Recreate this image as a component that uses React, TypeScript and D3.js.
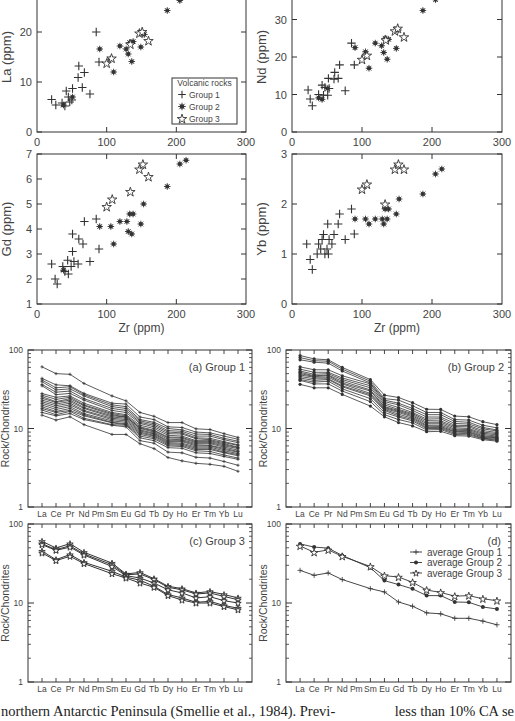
import React from "react";
import * as d3 from "d3";

// ---------- DATA ----------
const ELEMENTS = ["La","Ce","Pr","Nd","Pm","Sm","Eu","Gd","Tb","Dy","Ho","Er","Tm","Yb","Lu"];
// Pm is not analysed: measured values map onto these category positions
const MEASURED = [0,1,2,3,5,6,7,8,9,10,11,12,13,14];

const group1Patterns = [
  [61,50,49,37.5,26,22.5,16,14.3,11.9,11.9,9.9,9.7,8.6,7.7],
  [43.5,36,35,28,21,20.5,14,13,10.5,10.3,9,8.8,8,7.3],
  [41.5,33,34,27,20,19,13,12,10,9.6,8.5,8.4,7.5,6.9],
  [39.4,31,32,26,19,18,12.5,11.5,9.4,9.2,8,8,7.2,6.6],
  [36.4,29,30,24,18,17,12,11,9,8.8,7.6,7.5,6.8,6.2],
  [35,27,28,23,17,16,11.6,10.5,8.6,8.5,7.4,7.2,6.6,6.1],
  [27.9,25,26,21,16,15,11,10,8.2,8,7,7,6.4,5.8],
  [26.6,23.5,25,20,15.5,14.5,10.5,9.5,7.8,7.7,6.8,6.8,6.2,5.7],
  [25.4,22,24,19.5,15,14,10.2,9.3,7.6,7.5,6.6,6.6,6,5.55],
  [24.2,21.5,23,18.5,14.5,14,10,9,7.3,7.2,6.4,6.4,5.8,5.3],
  [23,20.5,22,18,14,13.5,9.6,8.7,7,7,6.2,6.1,5.6,5.1],
  [21.9,19.5,21,17,13.5,13,9.3,8.5,6.8,6.8,6,6,5.4,5],
  [20.9,18.5,20,16.5,13,12.5,9,8.2,6.6,6.5,5.8,5.8,5.2,4.8],
  [19.9,17.5,19,15.5,12.5,12,8.7,8,6.4,6.3,5.6,5.6,5,4.66],
  [18.9,16.5,18,15,12,11.5,8.4,7.7,6.2,6.1,5.4,5.4,4.9,4.5],
  [18,16,17,14.5,11.8,11.2,8,7.4,6,5.9,5.2,5.1,4.6,4.2],
  [17.2,15,16.5,13.5,11.2,11,7.6,7,5.7,5.6,4.9,4.8,4.4,4.05],
  [16,14.5,15.5,13,11,10.5,7,6.5,5,4.9,4.3,4.2,3.8,3.4],
  [14.8,12.8,14.1,11.2,8.4,8.4,6.4,5.55,4.27,3.87,3.6,3.5,3.3,2.85],
];

const group2Patterns = [
  [85,77,75,60,42,26.6,24.8,21.3,17.6,17.5,14.4,14.1,12.2,11.2],
  [80,73,72,57,40,24,23,19.5,16,16,13,12.8,11,10.2],
  [75,70,68,54,38,23,21,18,15,15,12.3,12,10.3,9.6],
  [61,56,56,47,37,22,20,17,14,14,11.6,11.4,9.9,9.3],
  [57,52,52,44,35,21,18.5,16,13.2,13.3,11,10.9,9.4,8.9],
  [54,49,50,42,33,20,17.5,15.5,12.6,12.5,10.6,10.5,9,8.6],
  [52,47,48,40,31,19,17,15,12,12,10.2,10,8.7,8.3],
  [50,46,47,38,30,18.5,16.5,14.5,11.5,11.5,9.8,9.7,8.4,8],
  [48,45,45,37,28,18,16,14,11,11,9.5,9.4,8.1,7.8],
  [46,43,43,35,27,17.5,15.2,13.5,10.7,10.6,9.2,9.1,7.9,7.6],
  [44,41,42,34,26,17,14.5,13,10.3,10.3,9,8.9,7.7,7.5],
  [42,39,40,32,24,16,14,12.5,10,10,8.7,8.6,7.5,7.3],
  [41,37,37,30,22,15,13,11.8,9.6,9.7,8.4,8.3,7.4,7.1],
  [36.5,33,33,27.2,19.3,14.1,11.9,10.8,9.1,9.2,8.1,8,7.2,6.9],
];

const group3Patterns = [
  [60.4,49.7,56.4,43.8,32,23.3,24.4,20.3,16.3,15.2,13.4,14,12.8,11.6],
  [56.4,47.3,53,41.7,30.5,22.8,23.3,19.8,15.8,14.7,13,13.4,12.1,11],
  [54.7,46.4,51,40.5,29,22.2,20.7,17.9,14.7,13.4,11.6,12,10.7,10],
  [45.4,35.4,41,32.7,25.2,21.3,19.4,16.3,12.8,11.6,10.2,10.5,9.3,8.6],
  [43,34.4,39,31.5,23.5,20.7,17.9,15.8,12.4,10.9,10,10,9,8.2],
];

const avgGroup1 = [25.9,22.4,24,19.8,15.2,13.8,10.3,9.1,7.5,7.3,6.4,6.4,5.9,5.3];
const avgGroup2 = [56,51,49.5,40,28,19.2,17.1,15.1,12.4,12.4,10.3,10.2,8.9,8.4];
const avgGroup3 = [52.7,43.8,47,39,29,22.2,21.3,18.3,14.6,13.6,12.2,12.4,11.3,10.7];

// Zr (ppm) vs element (ppm)
const laGroup1 = [[21,6.5],[27,5.4],[36,5.8],[40,5.2],[42,8.2],[45,7.0],[47,6.0],[50,6.4],[51,8.7],[59,10.9],[60,13.2],[65,8.9],[68,11.9],[76,7.6],[85,20],[89,14.0]];
const laGroup2 = [[38,5.4],[51,7.0],[90,16.6],[105,14.6],[110,12.0],[119,17.2],[128,16.6],[131,15.6],[133,17.9],[136,14.1],[138,18.1],[149,17.0],[152,19.8],[154,19.5],[187,24.3],[205,26.3],[214,28.5]];
const laGroup3 = [[100,13.8],[107,14.8],[134,17.6],[147,19.8],[151,20.1],[160,18.3]];

const ndGroup1 = [[23,11.2],[26,8.8],[29,7.0],[38,10.0],[43,12.5],[45,9.8],[47,11.9],[51,9.8],[52,14.3],[53,11.6],[60,14.1],[61,15.9],[66,14.3],[68,17.9],[76,11.0],[85,23.7],[89,17.9]];
const ndGroup2 = [[38,9.1],[43,8.7],[51,11.6],[90,22.5],[105,21.4],[110,17.0],[119,23.7],[128,23.0],[131,21.2],[133,25.0],[136,19.4],[138,24.7],[149,22.3],[152,27.2],[187,32.4],[205,35.3],[214,37.5]];
const ndGroup3 = [[100,19.4],[107,20.5],[134,24.6],[147,27],[151,27.7],[160,25.4]];

const gdGroup1 = [[21,2.6],[26,2.0],[29,1.8],[37,2.5],[40,2.3],[44,2.75],[45,2.2],[49,2.5],[51,3.1],[51,3.8],[53,2.7],[59,2.6],[60,3.6],[66,3.4],[68,4.3],[76,2.7],[85,4.4],[89,3.2]];
const gdGroup2 = [[38,2.35],[90,4.1],[106,4.1],[110,3.4],[119,4.3],[129,4.3],[131,3.9],[133,4.6],[136,3.8],[138,4.6],[149,4.2],[153,5.0],[187,5.7],[205,6.6],[214,6.75]];
const gdGroup3 = [[100,4.9],[108,5.2],[134,5.5],[147,6.4],[152,6.6],[160,6.1]];

const ybGroup1 = [[21,1.2],[26,0.89],[29,0.69],[36,1.0],[38,1.2],[41,1.1],[43,1.29],[45,1.39],[47,1.0],[50,1.1],[51,1.6],[52,1.0],[53,1.29],[57,1.2],[60,1.39],[66,1.6],[68,1.8],[76,1.29],[85,1.9],[89,1.4]];
const ybGroup2 = [[90,1.7],[105,1.7],[110,1.6],[119,1.7],[129,1.7],[131,1.6],[133,1.9],[136,1.7],[138,1.9],[149,1.8],[153,2.1],[187,2.2],[205,2.6],[214,2.7]];
const ybGroup3 = [[100,2.3],[107,2.4],[133,2.0],[147,2.7],[152,2.8],[160,2.7]];

const zrTicks = [0,100,200,300];
const legendLabels = ["Group 1","Group 2","Group 3"];
const avgLabels = ["average Group 1","average Group 2","average Group 3"];

// ---------- STYLE ----------
const INK = "#333";
const TXT = "#444";
const FONT = "'Liberation Sans', Arial, sans-serif";
const SERIF = "'Liberation Serif', 'Times New Roman', serif";

type Kind = "plus" | "ast" | "dot" | "star";

function Marker({ kind, x, y, s }: { kind: Kind; x: number; y: number; s: number }) {
  if (kind === "plus") {
    return <path d={`M${x - s},${y}H${x + s}M${x},${y - s}V${y + s}`} stroke={INK} strokeWidth={s > 3 ? 1.1 : 0.8} fill="none" />;
  }
  if (kind === "dot") {
    return <circle cx={x} cy={y} r={s} fill={INK} />;
  }
  if (kind === "ast") {
    const d = s * 0.72;
    return (
      <g>
        <circle cx={x} cy={y} r={s * 0.62} fill={INK} />
        <path d={`M${x - s},${y}H${x + s}M${x},${y - s}V${y + s}M${x - d},${y - d}L${x + d},${y + d}M${x - d},${y + d}L${x + d},${y - d}`} stroke={INK} strokeWidth={0.9} />
      </g>
    );
  }
  const size = (s * s) / 0.8908130915292852;
  const p = d3.symbol(d3.symbolStar, size)() as string;
  return <path d={p} transform={`translate(${x},${y + s * 0.12})`} fill="white" stroke={INK} strokeWidth={0.9} />;
}

function Scatter(props: {
  left: number; right: number; top: number; bottom: number;
  yDomain: [number, number]; yTicks: number[]; yLabel: string; xLabel?: boolean;
  groups: number[][][]; legend?: boolean;
}) {
  const { left, right, top, bottom, yDomain, yTicks, yLabel, xLabel, groups, legend } = props;
  const x = d3.scaleLinear().domain([0, 300]).range([left, right]);
  const y = d3.scaleLinear().domain(yDomain).range([bottom, top]);
  const kinds: Kind[] = ["plus", "ast", "star"];
  const sizes = [4.2, 3.3, 5];
  return (
    <g>
      <rect x={left} y={top} width={right - left} height={bottom - top} fill="none" stroke={INK} strokeWidth={1} />
      {zrTicks.slice(1, 3).map((t) => (
        <g key={"xt" + t}>
          <line x1={x(t)} x2={x(t)} y1={bottom} y2={bottom - 5} stroke={INK} />
          <line x1={x(t)} x2={x(t)} y1={top} y2={top + 5} stroke={INK} />
        </g>
      ))}
      {zrTicks.map((t) => (
        <text key={"xl" + t} x={x(t)} y={bottom + 14} textAnchor="middle" fontSize={11} fill={TXT} fontFamily={FONT}>{t}</text>
      ))}
      {yTicks.map((t) => (
        <g key={"yt" + t}>
          <line x1={left} x2={left + 5} y1={y(t)} y2={y(t)} stroke={INK} />
          <line x1={right} x2={right - 5} y1={y(t)} y2={y(t)} stroke={INK} />
          <text x={left - 5} y={y(t) + 4} textAnchor="end" fontSize={11} fill={TXT} fontFamily={FONT}>{t}</text>
        </g>
      ))}
      <text transform={`translate(${left - 26},${(top + bottom) / 2}) rotate(-90)`} textAnchor="middle" fontSize={13} fill={TXT} fontFamily={FONT}>{yLabel}</text>
      {xLabel && (
        <text x={(left + right) / 2} y={bottom + 28} textAnchor="middle" fontSize={12} fill={TXT} fontFamily={FONT}>Zr (ppm)</text>
      )}
      {groups.map((pts, gi) =>
        pts.map((p, i) => <Marker key={gi + "-" + i} kind={kinds[gi]} x={x(p[0])} y={y(p[1])} s={sizes[gi]} />)
      )}
      {legend && (
        <g>
          <rect x={172} y={78} width={65} height={46} fill="white" stroke={INK} strokeWidth={1} />
          <text x={204.5} y={86} textAnchor="middle" fontSize={8.5} fill={TXT} fontFamily={FONT}>Volcanic rocks</text>
          {legendLabels.map((l, i) => (
            <g key={l}>
              <Marker kind={kinds[i]} x={182} y={94.5 + i * 12} s={i === 2 ? 5 : 3.8} />
              <text x={189} y={97.5 + i * 12} fontSize={8.5} fill={TXT} fontFamily={FONT}>{l}</text>
            </g>
          ))}
        </g>
      )}
    </g>
  );
}

function REEPanel(props: {
  left: number; right: number; top: number; bottom: number;
  series: number[][]; kinds: Kind[]; sizes: number[]; widths: number[]; title: string; legend?: boolean;
}) {
  const { left, right, top, bottom, series, kinds, sizes, widths, title, legend } = props;
  const x = d3.scaleLinear().domain([-1, 15]).range([left, right]);
  const y = d3.scaleLog().domain([1, 100]).range([bottom, top]);
  const minors: number[] = [];
  [1, 10].forEach((dec) => { for (let k = 2; k <= 9; k++) minors.push(k * dec); });
  const line = d3.line<number>().x((_, i) => x(MEASURED[i])).y((v) => y(v));
  return (
    <g>
      <rect x={left} y={top} width={right - left} height={bottom - top} fill="none" stroke={INK} strokeWidth={1} />
      {ELEMENTS.map((e, i) => (
        <g key={e}>
          <line x1={x(i)} x2={x(i)} y1={bottom} y2={bottom - 4} stroke={INK} strokeWidth={0.9} />
          <line x1={x(i)} x2={x(i)} y1={top} y2={top + 4} stroke={INK} strokeWidth={0.9} />
          <text x={x(i)} y={bottom + 10} textAnchor="middle" fontSize={8.5} fill={TXT} fontFamily={FONT}>{e}</text>
        </g>
      ))}
      {[1, 10, 100].map((t) => (
        <g key={"m" + t}>
          <line x1={left} x2={left + 6} y1={y(t)} y2={y(t)} stroke={INK} />
          <line x1={right} x2={right - 6} y1={y(t)} y2={y(t)} stroke={INK} />
          <text x={left - 5} y={y(t) + 3} textAnchor="end" fontSize={8.5} fill={TXT} fontFamily={FONT}>{t}</text>
        </g>
      ))}
      {minors.map((t) => (
        <g key={"n" + t}>
          <line x1={left} x2={left + 3} y1={y(t)} y2={y(t)} stroke={INK} strokeWidth={0.8} />
          <line x1={right} x2={right - 3} y1={y(t)} y2={y(t)} stroke={INK} strokeWidth={0.8} />
        </g>
      ))}
      <text transform={`translate(${left - 19},${(top + bottom) / 2}) rotate(-90)`} textAnchor="middle" fontSize={10.5} fill={TXT} fontFamily={FONT}>Rock/Chondrites</text>
      <text x={legend ? right - 10 : right - 7} y={top + 21} textAnchor="end" fontSize={11} fill={TXT} fontFamily={FONT}>{title}</text>
      {series.map((s, si) => (
        <g key={si}>
          <path d={line(s) as string} fill="none" stroke={INK} strokeWidth={widths[si]} />
          {s.map((v, i) => <Marker key={i} kind={kinds[si]} x={x(MEASURED[i])} y={y(v)} s={sizes[si]} />)}
        </g>
      ))}
      {legend && avgLabels.map((l, i) => (
        <g key={l}>
          <line x1={right - 101} x2={right - 89} y1={top + 28 + i * 10.5} y2={top + 28 + i * 10.5} stroke={INK} strokeWidth={0.9} />
          <Marker kind={kinds[i]} x={right - 95} y={top + 28 + i * 10.5} s={i === 2 ? 3.4 : sizes[i]} />
          <text x={right - 84} y={top + 31.5 + i * 10.5} fontSize={10} fill={TXT} fontFamily={FONT}>{l}</text>
        </g>
      ))}
    </g>
  );
}

export default function App() {
  const g1 = group1Patterns.length, g2 = group2Patterns.length, g3 = group3Patterns.length;
  return (
    <svg width={515} height={721} style={{ position: "absolute", left: 0, top: 0, background: "white" }}>
      <rect x={0} y={0} width={515} height={721} fill="white" />
      <Scatter left={37} right={246} top={-18} bottom={132} yDomain={[0, 30]} yTicks={[0, 10, 20]} yLabel="La (ppm)" groups={[laGroup1, laGroup2, laGroup3]} legend />
      <Scatter left={292} right={502} top={-18} bottom={132} yDomain={[0, 40]} yTicks={[0, 10, 20, 30]} yLabel="Nd (ppm)" groups={[ndGroup1, ndGroup2, ndGroup3]} />
      <Scatter left={37} right={246} top={154} bottom={304} yDomain={[1, 7]} yTicks={[1, 2, 3, 4, 5, 6, 7]} yLabel="Gd (ppm)" xLabel groups={[gdGroup1, gdGroup2, gdGroup3]} />
      <Scatter left={292} right={502} top={154} bottom={304} yDomain={[0, 3]} yTicks={[0, 1, 2, 3]} yLabel="Yb (ppm)" xLabel groups={[ybGroup1, ybGroup2, ybGroup3]} />

      <REEPanel left={28} right={252} top={350} bottom={507} series={group1Patterns}
        kinds={Array(g1).fill("plus")} sizes={Array(g1).fill(1.6)} widths={Array(g1).fill(0.8)} title="(a) Group 1" />
      <REEPanel left={286} right={511} top={350} bottom={507} series={group2Patterns}
        kinds={Array(g2).fill("dot")} sizes={Array(g2).fill(1.6)} widths={Array(g2).fill(0.8)} title="(b) Group 2" />
      <REEPanel left={28} right={252} top={524} bottom={682} series={group3Patterns}
        kinds={Array(g3).fill("star")} sizes={Array(g3).fill(3.4)} widths={Array(g3).fill(1)} title="(c) Group 3" />
      <REEPanel left={286} right={511} top={524} bottom={682} series={[avgGroup1, avgGroup2, avgGroup3]}
        kinds={["plus", "dot", "star"]} sizes={[2.6, 2, 4]} widths={[0.9, 0.9, 0.9]} title="(d)" legend />

      <text x={1} y={716} fontSize={14.5} fontFamily={SERIF} fill="#222">northern Antarctic Peninsula (Smellie et al., 1984). Previ-</text>
      <text x={514} y={716} textAnchor="end" fontSize={14.5} fontFamily={SERIF} fill="#222">less than 10% CA se</text>
    </svg>
  );
}
